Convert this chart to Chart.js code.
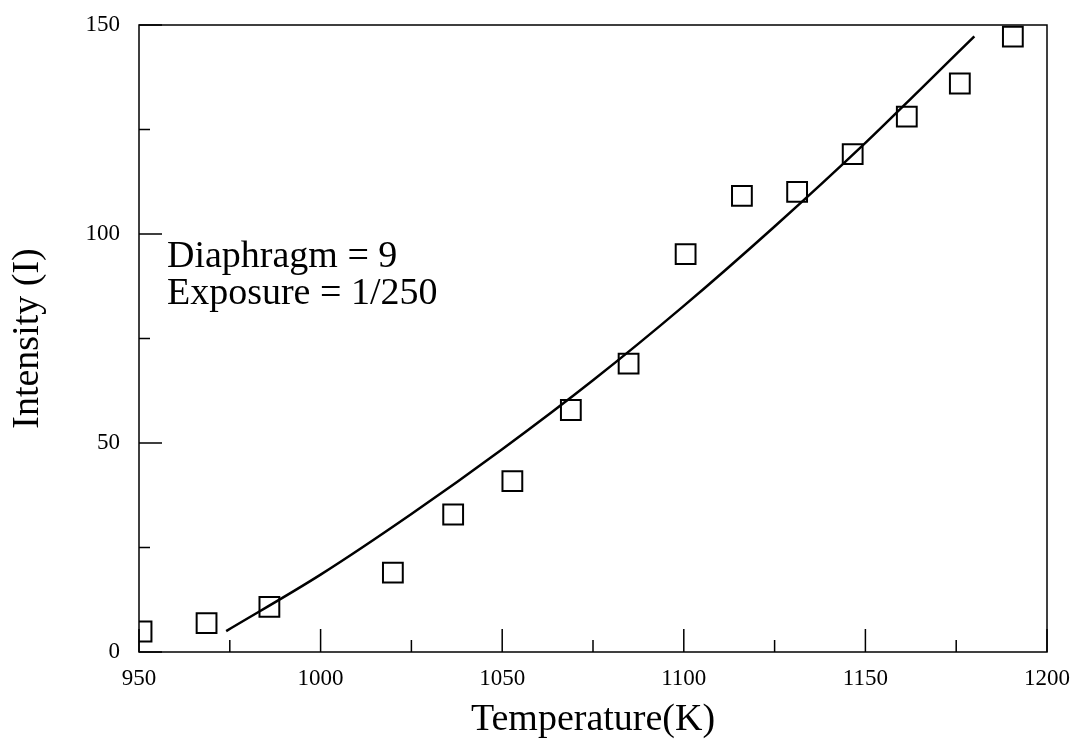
<!DOCTYPE html>
<html>
<head>
<meta charset="utf-8">
<script src="https://cdn.jsdelivr.net/npm/chart.js@4.4.1/dist/chart.umd.min.js"></script>
<style>
  body { margin: 0; background: #fff; }
  #wrap { width: 1076px; height: 739px; }
</style>
</head>
<body>
<div id="wrap"><canvas id="grafica" width="1076" height="739"></canvas></div>
<script>
// puntos medidos (cuadrados)
const tempMedida = [950.7, 968.6, 985.9, 1019.9, 1036.5, 1052.8, 1068.9, 1084.8, 1100.5, 1116.0, 1131.2, 1146.5, 1161.4, 1176.0, 1190.6];
const intensidadMedida = [4.9, 6.9, 10.8, 19.0, 32.9, 40.9, 57.9, 69.0, 95.2, 109.1, 110.1, 119.1, 128.1, 136.0, 147.2];

// curva de ajuste
const tempAjuste = [974, 1000, 1025, 1050, 1075, 1100, 1125, 1150, 1165, 1180];
const intensidadAjuste = [5.0, 18.5, 33.0, 48.5, 65.0, 82.8, 101.8, 121.8, 134.5, 147.3];

// marcas de los ejes
const ticksX = [950, 1000, 1050, 1100, 1150, 1200];
const ticksY = [0, 50, 100, 150];

// texto dentro del grafico
const nota = ['Diaphragm = 9', 'Exposure = 1/250'];
const notaX = 957.7;
const notaY = [92.1, 83.2];

const fuente = 'Liberation Serif';

// marco y marcas hacia adentro, como en el original
const marco = {
    id: 'marco',
    afterDraw(chart) {
        const ctx = chart.ctx;
        const a = chart.chartArea;
        const x = chart.scales.x;
        const y = chart.scales.y;
        ctx.save();
        ctx.strokeStyle = '#000';
        ctx.lineWidth = 1.5;
        ctx.strokeRect(a.left, a.top, a.right - a.left, a.bottom - a.top);

        ctx.beginPath();
        ticksX.forEach((v, i) => {
            const px = x.getPixelForValue(v);
            ctx.moveTo(px, a.bottom);
            ctx.lineTo(px, a.bottom - 23);
            if (i < ticksX.length - 1) {
                const pm = x.getPixelForValue((v + ticksX[i + 1]) / 2);
                ctx.moveTo(pm, a.bottom);
                ctx.lineTo(pm, a.bottom - 12);
            }
        });
        ticksY.forEach((v, i) => {
            const py = y.getPixelForValue(v);
            ctx.moveTo(a.left, py);
            ctx.lineTo(a.left + 23, py);
            if (i < ticksY.length - 1) {
                const pm = y.getPixelForValue((v + ticksY[i + 1]) / 2);
                ctx.moveTo(a.left, pm);
                ctx.lineTo(a.left + 11, pm);
            }
        });
        ctx.stroke();

        ctx.fillStyle = '#000';
        ctx.font = '38px "' + fuente + '"';
        ctx.textAlign = 'left';
        ctx.textBaseline = 'alphabetic';
        nota.forEach((t, i) => {
            ctx.fillText(t, x.getPixelForValue(notaX), y.getPixelForValue(notaY[i]));
        });
        ctx.restore();
    }
};

const ctx = document.getElementById('grafica');

new Chart(ctx, {
    type: 'scatter',
    data: {
        datasets: [
            {
                label: 'ajuste',
                data: tempAjuste.map((t, i) => ({ x: t, y: intensidadAjuste[i] })),
                showLine: true,
                borderColor: '#000',
                borderWidth: 2.5,
                pointRadius: 0,
                cubicInterpolationMode: 'monotone'
            },
            {
                label: 'medido',
                data: tempMedida.map((t, i) => ({ x: t, y: intensidadMedida[i] })),
                pointStyle: 'rect',
                pointRadius: 14,
                pointHoverRadius: 14,
                borderColor: '#000',
                borderWidth: 2,
                backgroundColor: 'rgba(0,0,0,0)'
            }
        ]
    },
    options: {
        responsive: false,
        animation: false,
        layout: { padding: { top: 25, right: 29, left: 0, bottom: 0 } },
        plugins: {
            legend: { display: false },
            tooltip: { enabled: false }
        },
        scales: {
            x: {
                type: 'linear',
                min: 950,
                max: 1200,
                afterBuildTicks: s => { s.ticks = ticksX.map(v => ({ value: v })); },
                afterFit: s => { s.height = 87; s.paddingLeft = 0; s.paddingRight = 0; },
                grid: { display: false, drawTicks: false },
                border: { display: false },
                ticks: {
                    color: '#000',
                    font: { family: fuente, size: 23 },
                    padding: 13,
                    maxRotation: 0,
                    callback: v => String(v)
                },
                title: {
                    display: true,
                    text: 'Temperature(K)',
                    color: '#000',
                    font: { family: fuente, size: 38, lineHeight: 1 },
                    padding: 0
                }
            },
            y: {
                type: 'linear',
                min: 0,
                max: 150,
                afterBuildTicks: s => { s.ticks = ticksY.map(v => ({ value: v })); },
                afterFit: s => { s.width = 139; s.paddingTop = 0; s.paddingBottom = 0; },
                grid: { display: false, drawTicks: false },
                border: { display: false },
                ticks: {
                    color: '#000',
                    font: { family: fuente, size: 23 },
                    padding: 19,
                    callback: v => String(v)
                },
                title: {
                    display: true,
                    text: 'Intensity (I)',
                    color: '#000',
                    font: { family: fuente, size: 38, lineHeight: 1 },
                    padding: { top: 9, bottom: 0 }
                }
            }
        }
    },
    plugins: [marco]
});
</script>
</body>
</html>
